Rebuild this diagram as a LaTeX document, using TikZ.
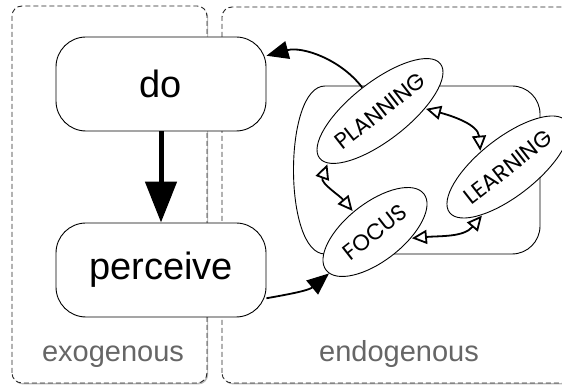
\documentclass[tikz,border=0pt]{standalone}
\usepackage{fontspec}
\setmainfont{Liberation Sans}
\newfontfamily\modefont{Poppins}
\usetikzlibrary{arrows.meta,shapes.geometric,shadows}

\begin{document}
\begin{tikzpicture}[x=1pt,y=1pt,
  zone/.style={draw=black!85,line width=0.9pt,dash pattern=on 5pt off 3pt,rounded corners=10pt,fill=white,
    drop shadow={shadow xshift=1.2pt,shadow yshift=-1.5pt,fill=black!55}},
  zonelabel/.style={text=black!60,font=\fontsize{29}{32}\selectfont},
  act/.style={draw,line width=0.9pt,rounded corners=30pt,fill=white,minimum width=210pt,minimum height=94pt,
    font=\fontsize{38}{44}\selectfont},
  mode/.style={ellipse,draw,line width=0.9pt,fill=white,rotate=38,minimum width=124pt,minimum height=58pt,
    inner sep=0pt,font=\modefont\fontsize{22.5}{25}\selectfont},
  bigarrow/.style={line width=5pt,-{Triangle[length=41pt,width=31pt]}},
  link/.style={line width=1.8pt,-{Triangle[length=22pt,width=18pt]}},
  loop/.style={line width=1.8pt,shorten <=1pt,shorten >=1pt,
    {Triangle[open,length=15pt,width=14pt]}-{Triangle[open,length=15pt,width=14pt]}}]
  \useasboundingbox (0,0) rectangle (562,387);
  % 外部与内部区域
  \draw[zone] (12,4) rectangle (207,381);
  \draw[zone] (222,4) rectangle (590,380);
  % 区域标签
  \node[zonelabel,anchor=base] (exo) at (113,25) {exogenous};
  \node[zonelabel,anchor=base] (endo) at (399,25) {endogenous};
  % 行为节点
  \node[act] (do) at (161,303) {do};
  \node[act] (perceive) at (161,117) {perceive};
  % 内部循环外框
  \draw[line width=0.9pt] (325,133) .. controls (283,133) and (283,301) .. (325,301)
    [rounded corners=28pt] -- (540,301) -- (540,133) -- (325,133);
  % 三个内部节点
  \node[mode] (plan) at (380,276) {PLANNING};
  \node[mode] (learn) at (508,220) {LEARNING};
  \node[mode] (focus) at (375,155) {FOCUS};
  % 连接
  \draw[bigarrow] (do) -- (perceive);
  \draw[link] (plan) to[out=110,in=15] (do);
  \draw[link] (perceive.-15) to[out=10,in=220] (focus.184);
  \draw[loop] (plan.-35) to[out=-15,in=95] (learn.113);
  \draw[loop] (plan.187) to[out=250,in=130] (focus.99);
  \draw[loop] (focus.-48) to[out=5,in=230] (learn.204);
\end{tikzpicture}
\end{document}
